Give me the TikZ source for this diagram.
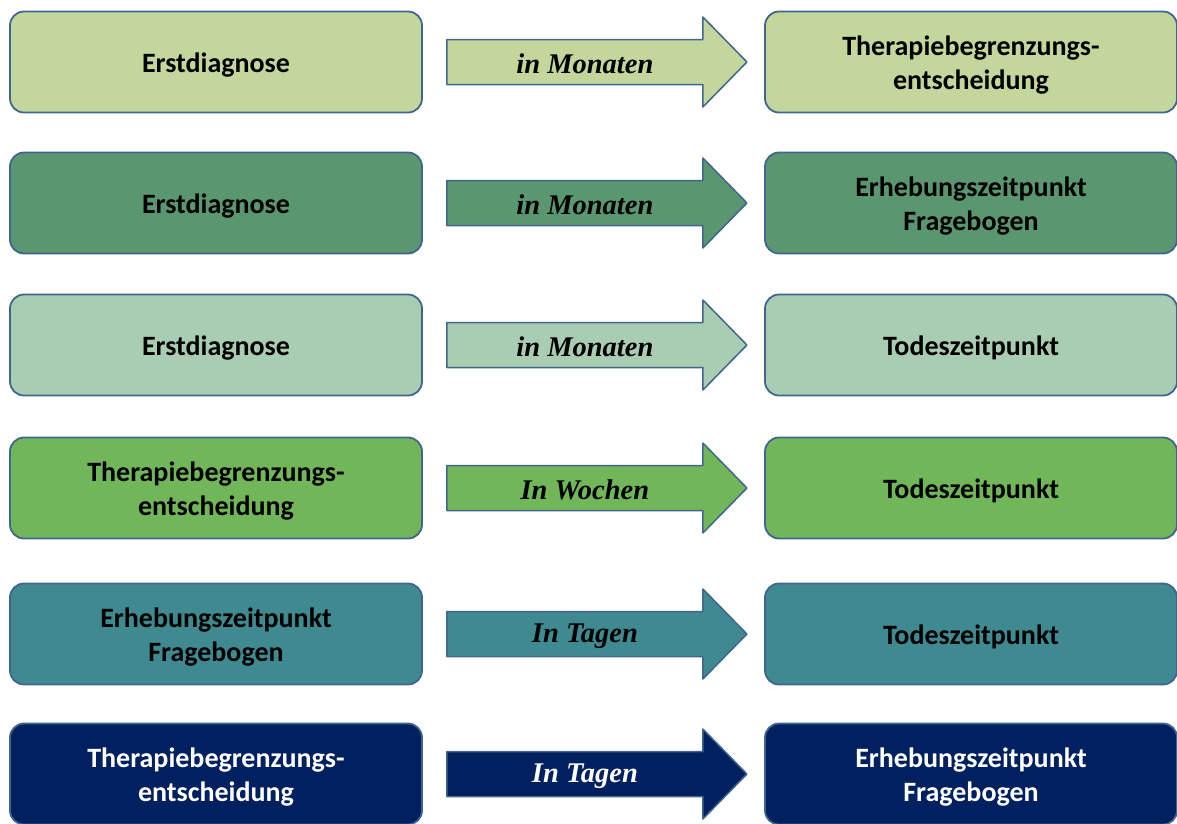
\documentclass[tikz,border=0pt]{standalone}
\usepackage{fontspec}
\setmainfont{Carlito}
\newfontfamily\arrowfont{Liberation Serif}
\usetikzlibrary{calc}
\definecolor{bordc}{HTML}{41658F}
\definecolor{rowa}{HTML}{C3D69B}
\definecolor{rowb}{HTML}{5A966F}
\definecolor{rowc}{HTML}{A8CDB2}
\definecolor{rowd}{HTML}{71B75A}
\definecolor{rowe}{HTML}{3E8A90}
\definecolor{rowf}{HTML}{002060}
\begin{document}
\begin{tikzpicture}[x=1pt, y=-1pt, line join=round,
    box/.style={draw=bordc, line width=1.8pt, rounded corners=14pt, minimum width=412pt, minimum height=101pt, inner sep=0pt},
    boxtext/.style={inner sep=0pt, align=center, font=\fontsize{28}{34}\bfseries\selectfont},
    arrowbody/.style={draw=bordc, line width=1.5pt},
    arrowlabel/.style={inner sep=0pt, font=\fontsize{28.5}{32}\arrowfont\bfseries\itshape\selectfont}]
  \clip (0,0) rectangle (1177,823);
  \fill[white] (0,0) rectangle (1177,823);
  \foreach \i/\y/\ltxt/\mtxt/\rtxt/\col/\tcol in {
      1/62/{Erstdiagnose}/{in Monaten}/{Therapiebegrenzungs-\\entscheidung}/rowa/black,
      2/203/{Erstdiagnose}/{in Monaten}/{Erhebungszeitpunkt\\Fragebogen}/rowb/black,
      3/345/{Erstdiagnose}/{in Monaten}/{Todeszeitpunkt}/rowc/black,
      4/488/{Therapiebegrenzungs-\\entscheidung}/{In Wochen}/{Todeszeitpunkt}/rowd/black,
      5/634/{Erhebungszeitpunkt\\Fragebogen}/{In Tagen}/{Todeszeitpunkt}/rowe/black,
      6/774/{Therapiebegrenzungs-\\entscheidung}/{In Tagen}/{Erhebungszeitpunkt\\Fragebogen}/rowf/white}
  {
    \node[box, fill=\col] (l\i) at (216,\y) {};
    \node[boxtext, text=\tcol] (lt\i) at ($(l\i.center)+(0,3)$) {\ltxt};
    \node[box, fill=\col] (r\i) at (971,\y) {};
    \node[boxtext, text=\tcol] (rt\i) at ($(r\i.center)+(0,3)$) {\rtxt};
    % block arrow between the two boxes
    \draw[arrowbody, fill=\col] ($(l\i.east)+(24,-22.5)$) -- ++(256,0) -- ++(0,-22.5)
      -- ++(44,45) -- ++(-44,45) -- ++(0,-22.5) -- ++(-256,0) -- cycle;
    \node[arrowlabel, text=\tcol] (a\i) at ($(l\i.east)+(162,2)$) {\mtxt};
  }
\end{tikzpicture}
\end{document}
